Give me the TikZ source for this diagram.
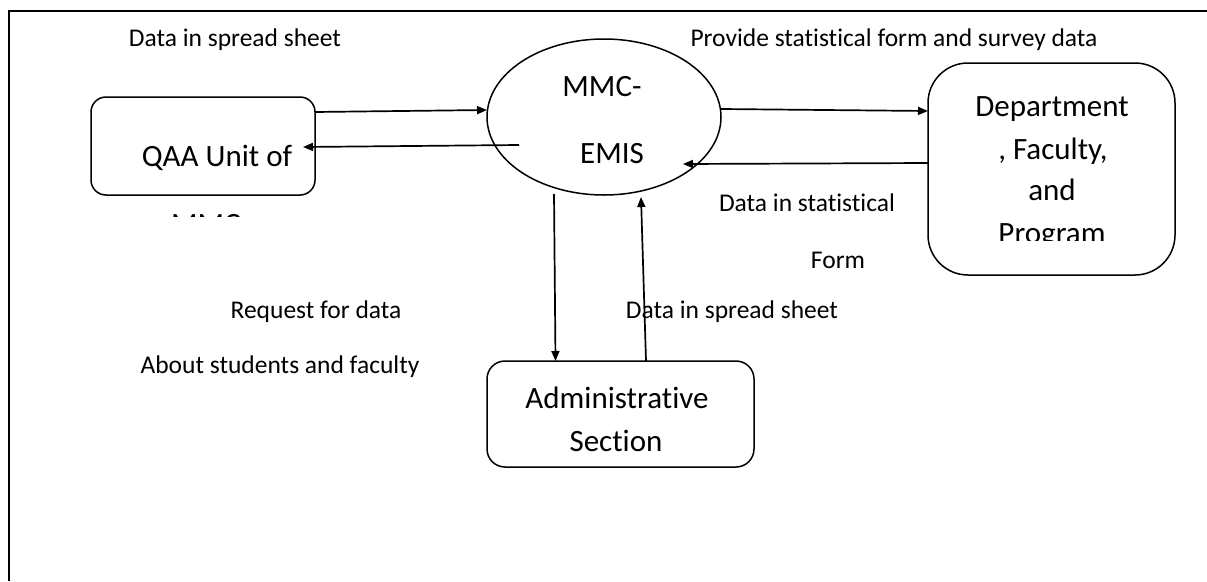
\documentclass[tikz,border=0pt]{standalone}
\usepackage{fontspec}
\setmainfont{Carlito}[Ligatures=CommonOff]
\usetikzlibrary{shapes.geometric,arrows.meta}
\tikzset{
  boxnode/.style={draw,line width=1.5pt,rounded corners=#1,inner sep=0pt,outer sep=0pt},
  procnode/.style={draw,ellipse,line width=1.5pt,inner sep=0pt,outer sep=0pt},
  bigtext/.style={anchor=base,inner sep=0pt,font=\fontsize{31}{37}\selectfont},
  smalltext/.style={anchor=base,inner sep=0pt,font=\fontsize{25.5}{30}\selectfont},
  flow/.style={line width=1.7pt,-{Triangle[length=10pt,width=8pt]}},
}
\begin{document}
\begin{tikzpicture}[x=1pt,y=-1pt]
\useasboundingbox (0,0) rectangle (1207,581);
% frame
\draw[line width=2pt] (9,581) -- (9,11) -- (1207,11);
% shapes
\node[boxnode=15pt,minimum width=224pt,minimum height=98pt] (qaa) at (203,146) {};
\node[procnode,minimum width=234pt,minimum height=156pt] (mmc) at (604,117) {};
\node[boxnode=40pt,minimum width=247pt,minimum height=212pt] (dept) at (1051.5,169) {};
\node[boxnode=18pt,minimum width=267pt,minimum height=106pt] (admin) at (620.5,414) {};
% texts in shapes
\node[bigtext] (qaat) at (217,166) {QAA Unit of};
\begin{scope}
  \clip (140,200) rectangle (280,216.5);
  \node[bigtext] (qaat2) at (206,234) {MMC};
\end{scope}
\node[bigtext] (mmct1) at (602,96) {MMC-};
\node[bigtext] (mmct2) at (612,163) {EMIS};
\node[bigtext] (deptt1) at (1052,116) {Department};
\node[bigtext] (deptt2) at (1053,159) {, Faculty,};
\node[bigtext] (deptt3) at (1052,200) {and};
\begin{scope}
  \clip (980,205) rectangle (1120,240);
  \node[bigtext] (deptt4) at (1052,243) {Program};
\end{scope}
\node[bigtext] (admint1) at (617,408) {Administrative};
\node[bigtext] (admint2) at (616,451) {Section};
% labels
\node[smalltext] (l1) at (235,46) {Data in spread sheet};
\node[smalltext] (l2) at (894,46) {Provide statistical form and survey data};
\node[smalltext] (l3) at (807,211) {Data in statistical};
\node[smalltext] (l4) at (838,268) {Form};
\node[smalltext] (l5) at (316,318) {Request for data};
\node[smalltext] (l6) at (280,373) {About students and faculty};
\node[smalltext] (l7) at (732,318) {Data in spread sheet};
% connectors
\draw[flow] ([yshift=34pt]qaa.east) -- ([yshift=7pt]mmc.west);
\draw[flow] ([xshift=-85pt,yshift=-28pt]mmc.center) -- ([xshift=-12pt,yshift=-1pt]qaa.east);
\draw[flow] ([yshift=8pt]mmc.east) -- ([yshift=58pt]dept.west);
\draw[flow] ([yshift=6pt]dept.west) -- ([xshift=79pt,yshift=-47pt]mmc.center);
\draw[flow] ([xshift=-50pt,yshift=-77pt]mmc.center) -- ([xshift=-65pt]admin.north);
\draw[flow] ([xshift=25.5pt]admin.north) -- ([xshift=37pt,yshift=-80pt]mmc.center);
\end{tikzpicture}
\end{document}
